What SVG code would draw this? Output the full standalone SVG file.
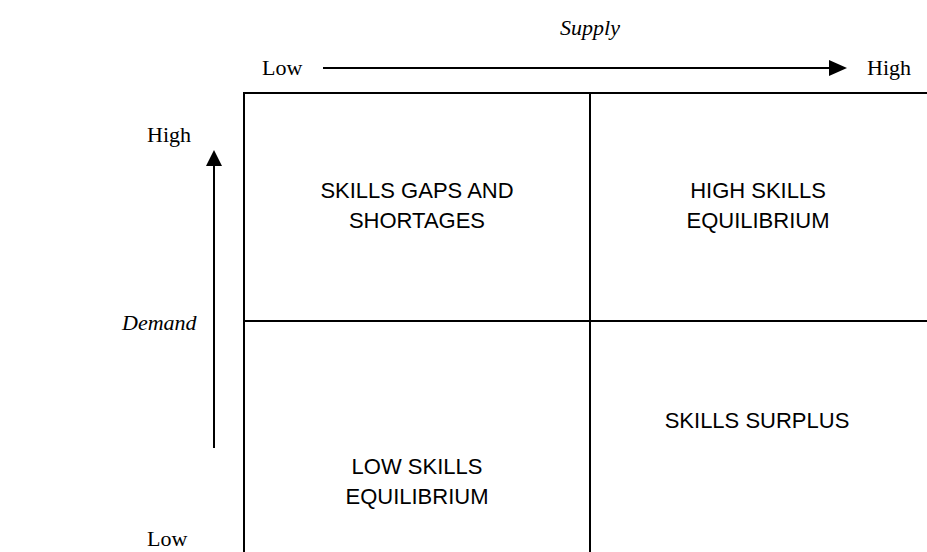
<svg xmlns="http://www.w3.org/2000/svg" width="927" height="552" viewBox="0 0 927 552">
<style>
.t{font-family:"Liberation Serif","Times New Roman",serif;font-size:22px;fill:#000}
.i{font-style:italic}
.q{font-family:"Liberation Sans",Arial,sans-serif;font-size:22px;fill:#000;text-anchor:middle}
.ln{stroke:#000;stroke-width:2;fill:none}
</style>
<g id="grid">
<line class="ln" x1="244" y1="93" x2="927" y2="93"/>
<line class="ln" x1="244" y1="92" x2="244" y2="552"/>
<line class="ln" x1="590" y1="93" x2="590" y2="552"/>
<line class="ln" x1="244" y1="321" x2="927" y2="321"/>
</g>
<g id="connectors">
<line x1="323" y1="68" x2="832" y2="68" stroke="#000" stroke-width="2"/>
<path d="M829,60 L847,68 L829,76 z" fill="#000"/>
<line x1="214" y1="448" x2="214" y2="163" stroke="#000" stroke-width="2"/>
<path d="M206,166 L214,150 L222,166 z" fill="#000"/>
</g>
<g id="labels">
<text class="t i" x="590" y="35" text-anchor="middle">Supply</text>
<text class="t" x="262" y="75">Low</text>
<text class="t" x="867" y="75">High</text>
<text class="t" x="147" y="142">High</text>
<text class="t i" x="122" y="330">Demand</text>
<text class="t" x="147" y="546">Low</text>
</g>
<g id="q1"><text class="q" x="417" y="198">SKILLS GAPS AND</text><text class="q" x="417" y="228">SHORTAGES</text></g>
<g id="q2"><text class="q" x="758" y="198">HIGH SKILLS</text><text class="q" x="758" y="228">EQUILIBRIUM</text></g>
<g id="q3"><text class="q" x="417" y="474">LOW SKILLS</text><text class="q" x="417" y="504">EQUILIBRIUM</text></g>
<g id="q4"><text class="q" x="757" y="428">SKILLS SURPLUS</text></g>
</svg>
